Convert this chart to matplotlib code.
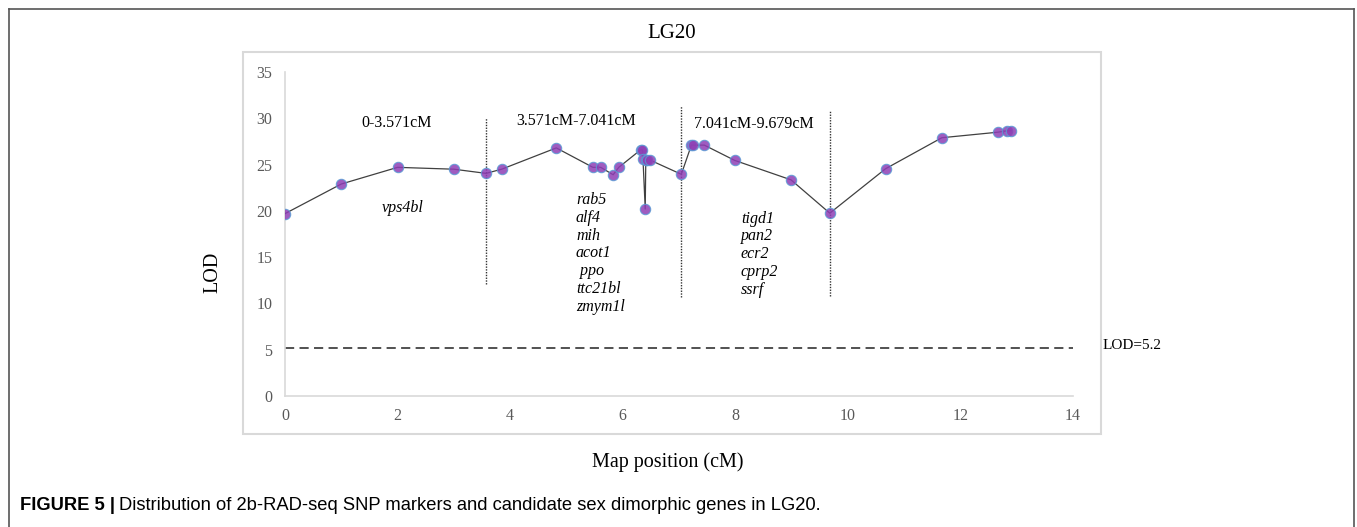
import matplotlib
matplotlib.use("Agg")
import matplotlib.pyplot as plt
from matplotlib.lines import Line2D
from matplotlib.patches import Rectangle

# marker positions (cM) and LOD scores on LG20
pos = [0.0, 1.0, 2.0, 3.0, 3.571, 3.85, 4.82, 5.47, 5.61, 5.83, 5.93,
       6.32, 6.35, 6.36, 6.40, 6.41, 6.44, 6.48, 7.041, 7.22, 7.25, 7.45,
       7.99, 8.99, 9.679, 10.67, 11.67, 12.67, 12.83, 12.90]
lod = [19.7, 22.9, 24.7, 24.5, 24.05, 24.5, 26.8, 24.7, 24.7, 23.9, 24.7,
       26.6, 26.6, 25.6, 20.2, 25.5, 25.5, 25.5, 23.95, 27.1, 27.1, 27.1,
       25.45, 23.35, 19.75, 24.55, 27.9, 28.5, 28.65, 28.65]

lod_threshold = 5.2
bounds = [3.571, 7.041, 9.679]
region_names = ["0-3.571cM", "3.571cM-7.041cM", "7.041cM-9.679cM"]
genes_1 = ["vps4bl"]
genes_2 = ["rab5", "alf4", "mih", "acot1", " ppo", "ttc21bl", "zmym1l"]
genes_3 = ["tigd1", "pan2", "ecr2", "cprp2", "ssrf"]
xticks = [0, 2, 4, 6, 8, 10, 12, 14]
yticks = [0, 5, 10, 15, 20, 25, 30, 35]

W, H = 1357, 527
fig = plt.figure(figsize=(W / 100, H / 100), dpi=100)
serif = "Liberation Serif"

def fx(px):
    return px / W

def fy(py):
    return 1 - py / H

# outer frame (open at the bottom) and light chart box
for xs, ys in [([9, 9], [9, H]), ([9, 1354], [9, 9]), ([1354, 1354], [9, H])]:
    fig.add_artist(Line2D([fx(x) for x in xs], [fy(y) for y in ys],
                          color="#555555", lw=1.2))
fig.add_artist(Rectangle((fx(243), fy(434)), fx(1101) - fx(243), fy(52) - fy(434),
                         fill=False, edgecolor="#d9d9d9", lw=1.5))

ax = fig.add_axes([fx(285), fy(396), fx(1073) - fx(285), fy(72) - fy(396)])
ax.set_xlim(0, 14)
ax.set_ylim(0, 35)
ax.set_xticks(xticks)
ax.set_yticks(yticks)
for s in ["top", "right"]:
    ax.spines[s].set_visible(False)
for s in ["left", "bottom"]:
    ax.spines[s].set_color("#d9d9d9")
    ax.spines[s].set_linewidth(1.2)
ax.tick_params(length=0, labelcolor="#595959", labelsize=11.5)
ax.tick_params(axis="y", pad=9)
ax.tick_params(axis="x", pad=9)
for lab in ax.get_xticklabels() + ax.get_yticklabels():
    lab.set_family(serif)

# LOD curve
ax.plot(pos, lod, color="#404040", lw=0.9, zorder=3)
ax.scatter(pos, lod, s=56, color="#8e3fb5", alpha=0.85, edgecolors="#5b9bd5",
           linewidths=0.8, zorder=4)

# threshold line
ax.plot([0, 14], [lod_threshold, lod_threshold], color="#222222", lw=1.1,
        dashes=(6, 3.5))
ax.text(14.53, lod_threshold + 0.3, "LOD=" + str(lod_threshold), family=serif,
        fontsize=11, va="center", ha="left", clip_on=False)

# interval boundaries
bound_top = [30.0, 31.3, 30.8]
bound_bottom = [12.1, 10.7, 10.8]
for b, t, bt in zip(bounds, bound_top, bound_bottom):
    ax.plot([b, b], [bt, t], color="#333333", lw=1.0, ls=(0, (1.0, 1.0)), zorder=2)

region_x = [1.99, 5.17, 8.33]
region_y = [29.5, 29.7, 29.4]
for name, x, y in zip(region_names, region_x, region_y):
    ax.text(x, y, name, family=serif, fontsize=11.5, ha="center", va="center")

ax.text(2.10, 20.3, "\n".join(genes_1), family=serif, style="italic",
        fontsize=11.5, ha="center", va="center")
ax.text(5.17, 15.4, "\n".join(genes_2), family=serif, style="italic",
        fontsize=11.5, ha="left", va="center", linespacing=1.16)
ax.text(8.10, 15.3, "\n".join(genes_3), family=serif, style="italic",
        fontsize=11.5, ha="left", va="center", linespacing=1.16)

# titles
fig.text(fx(672), fy(33), "LG20", family=serif, fontsize=15, ha="center", va="center")
fig.text(fx(668), fy(462), "Map position (cM)", family=serif, fontsize=14.5,
         ha="center", va="center")
fig.text(fx(213), fy(272), "LOD", family=serif, fontsize=14.5, rotation=90,
         ha="center", va="center")

# caption
cap_font = "Liberation Sans"
t1 = fig.text(fx(20), fy(506), "FIGURE 5 |", family=cap_font, weight="bold",
              fontsize=13.2, ha="left", va="center")
fig.canvas.draw()
bb = t1.get_window_extent()
fig.text(bb.x1 / W + fx(4), fy(506),
         "Distribution of 2b-RAD-seq SNP markers and candidate sex dimorphic genes in LG20.",
         family=cap_font, fontsize=13.2, ha="left", va="center")

fig.savefig("out.png", dpi=100)
